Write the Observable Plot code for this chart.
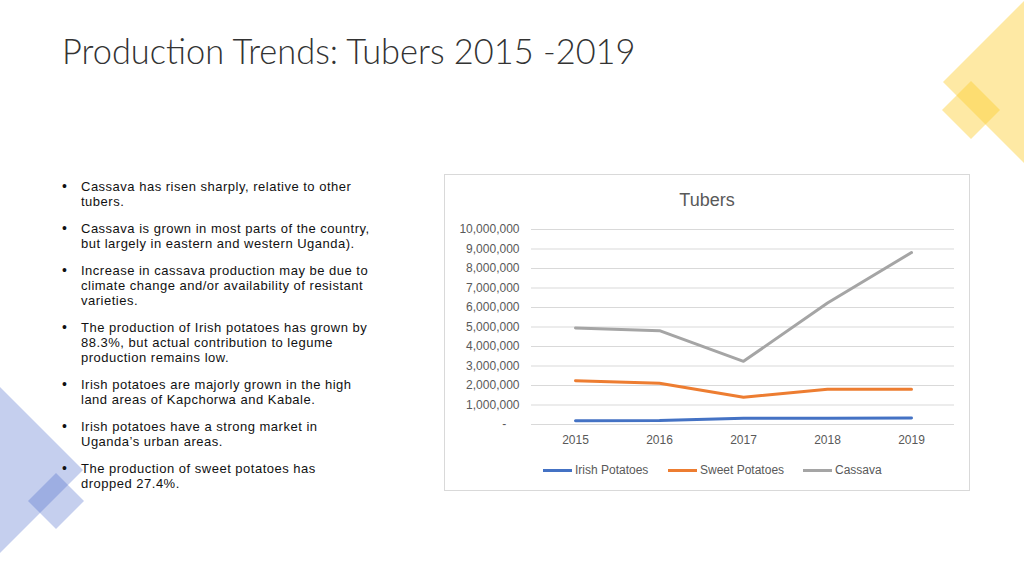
<!DOCTYPE html>
<html>
<head>
<meta charset="utf-8">
<script src="https://cdn.jsdelivr.net/npm/d3@7"></script>
<script src="https://cdn.jsdelivr.net/npm/@observablehq/plot@0.6"></script>
<style>
  html, body { margin: 0; padding: 0; background: #fff; }
  body { width: 1024px; height: 576px; position: relative; overflow: hidden; font-family: Lato, "Liberation Sans", sans-serif; }
  .deco { position: absolute; clip-path: polygon(50% 0, 100% 50%, 50% 100%, 0 50%); }
  #title { position: absolute; left: 62px; top: 31px; font-family: Lato, sans-serif; font-weight: 300; font-size: 34.4px; line-height: 40px; color: #333; white-space: nowrap; }
  #bullets { position: absolute; left: 63px; top: 179px; width: 340px; margin: 0; padding: 0; list-style: none; font-family: "Liberation Sans", sans-serif; font-size: 13px; letter-spacing: 0.5px; line-height: 15px; color: #111; }
  #bullets li { position: relative; padding-left: 18px; margin-bottom: 12px; white-space: nowrap; }
  #bullets li::before { content: "•"; position: absolute; left: -1px; top: 0; font-size: 14px; letter-spacing: 0; }
  #box { position: absolute; left: 444px; top: 174px; width: 524px; height: 315px; border: 1px solid #d9d9d9; background: #fff; }
  #ctitle { position: absolute; left: 0; width: 100%; top: 15px; text-align: center; font-family: "Liberation Sans", sans-serif; font-size: 18px; color: #595959; }
  #chart { position: absolute; left: 0; top: 0; }
  #legend { position: absolute; top: 288px; left: 0; width: 100%; font-family: "Liberation Sans", sans-serif; font-size: 12px; color: #595959; }
  .lg { position: absolute; display: flex; align-items: center; white-space: nowrap; }
  .sw { display: inline-block; width: 29px; height: 3px; margin-right: 3px; }
</style>
</head>
<body>
<div class="deco" style="left:943px; top:0px; width:164px; height:164px; background: rgba(252,204,48,0.44);"></div>
<div class="deco" style="left:942px; top:81px; width:58px; height:58px; background: rgba(252,204,48,0.44);"></div>
<div class="deco" style="left:-83px; top:387px; width:166px; height:166px; background: rgba(68,100,200,0.31);"></div>
<div class="deco" style="left:28px; top:473px; width:56px; height:56px; background: rgba(68,100,200,0.31);"></div>

<div id="title">Production Trends: Tubers 2015 -2019</div>
<ul id="bullets"></ul>

<div id="box">
  <div id="ctitle">Tubers</div>
  <div id="chart"></div>
  <div id="legend"></div>
</div>

<script>
const years = ["2015", "2016", "2017", "2018", "2019"];
const irishPotatoes = [190000, 200000, 320000, 320000, 330000];
const sweetPotatoes = [2240000, 2110000, 1400000, 1810000, 1810000];
const cassava = [4950000, 4810000, 3240000, 6230000, 8820000];
const seriesNames = ["Irish Potatoes", "Sweet Potatoes", "Cassava"];
const seriesColors = ["#4472c4", "#ed7d31", "#a5a5a5"];
const yTicks = [0, 1000000, 2000000, 3000000, 4000000, 5000000, 6000000, 7000000, 8000000, 9000000, 10000000];
const bulletLines = [
  ["Cassava has risen sharply, relative to other", "tubers."],
  ["Cassava is grown in most parts of the country,", "but largely in eastern and western Uganda)."],
  ["Increase in cassava production may be due to", "climate change and/or availability of resistant", "varieties."],
  ["The production of Irish potatoes has grown by", "88.3%, but actual contribution to legume", "production remains low."],
  ["Irish potatoes are majorly grown in the high", "land areas of Kapchorwa and Kabale."],
  ["Irish potatoes have a strong market in", "Uganda’s urban areas."],
  ["The production of sweet potatoes has", "dropped 27.4%."]
];

const ul = document.getElementById("bullets");
for (const lines of bulletLines) {
  const li = document.createElement("li");
  lines.forEach((t, k) => { if (k) li.appendChild(document.createElement("br")); li.appendChild(document.createTextNode(t)); });
  ul.appendChild(li);
}

const seriesValues = [irishPotatoes, sweetPotatoes, cassava];
const data = [];
seriesNames.forEach((name, i) => years.forEach((y, j) => data.push({series: name, year: y, value: seriesValues[i][j]})));

const fmt = d3.format(",");
const chart = Plot.plot({
  width: 524,
  height: 285,
  marginLeft: 86,
  marginRight: 15,
  marginTop: 54,
  marginBottom: 36,
  style: {fontFamily: "Liberation Sans, sans-serif", fontSize: "12px", color: "#595959", background: "transparent"},
  x: {type: "point", domain: years, padding: 0.5, label: null},
  y: {domain: [0, 10000000], label: null},
  color: {domain: seriesNames, range: seriesColors},
  marks: [
    Plot.gridY(yTicks, {stroke: "#d9d9d9", strokeOpacity: 1, strokeWidth: 1}),
    Plot.axisY(yTicks, {tickSize: 0, tickPadding: 12, label: null, tickFormat: d => d === 0 ? "-\u2007\u2007" : fmt(d), fill: "#595959"}),
    Plot.axisX({tickSize: 0, tickPadding: 11, label: null, fill: "#595959"}),
    Plot.line(data, {x: "year", y: "value", z: "series", stroke: "series", strokeWidth: 3, strokeLinecap: "round", strokeLinejoin: "round"})
  ]
});
document.getElementById("chart").appendChild(chart);

const legend = document.getElementById("legend");
const lefts = [98, 223, 358];
seriesNames.forEach((n, i) => {
  const d = document.createElement("div");
  d.className = "lg";
  d.style.left = lefts[i] + "px";
  d.innerHTML = `<span class="sw" style="background:${seriesColors[i]}"></span><span>${n}</span>`;
  legend.appendChild(d);
});
</script>
</body>
</html>
